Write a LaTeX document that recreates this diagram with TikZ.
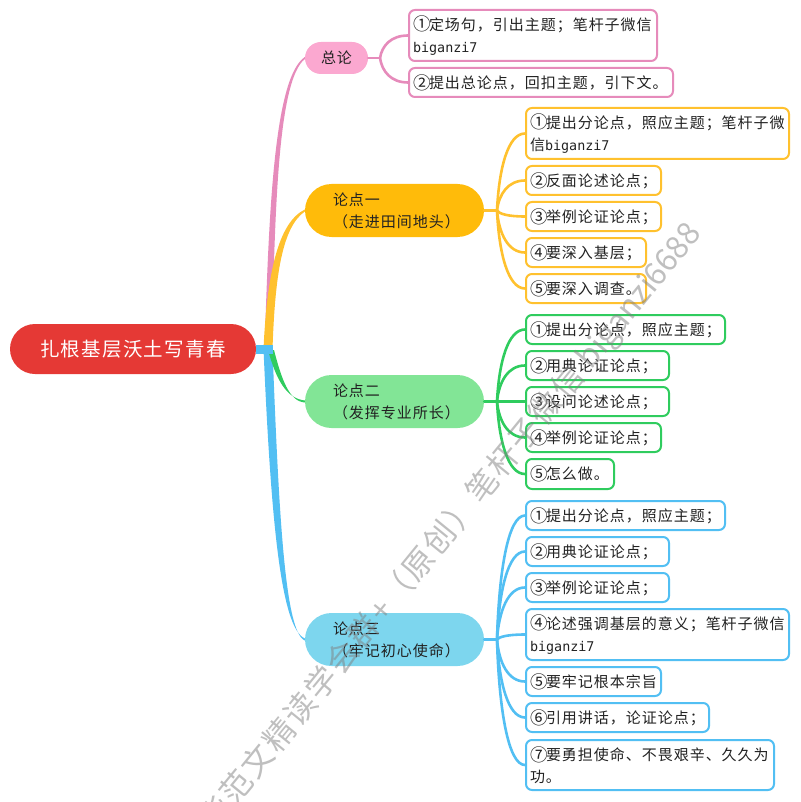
\documentclass[tikz,border=0pt]{standalone}
\usepackage{fontspec}
\usetikzlibrary{calc}
\newfontfamily\cjk[LetterSpace=6.5]{Noto Sans CJK SC}
\newfontfamily\wlat{Noto Sans CJK SC}
\newfontfamily\latm{DejaVu Sans Mono}
\newcommand{\bgz}{{\latm\fontsize{13.4}{22}\selectfont biganzi7}}
\newcommand{\cn}[1]{\raisebox{-0.8pt}{\fontsize{17.5}{22}\selectfont #1}\kern-1.5pt}
\definecolor{cred}{HTML}{E53935}
\definecolor{pinkf}{HTML}{FBA8D0}
\definecolor{pinkl}{HTML}{E68BBB}
\definecolor{orf}{HTML}{FFBB0A}
\definecolor{orl}{HTML}{FFC12E}
\definecolor{grf}{HTML}{82E596}
\definecolor{grl}{HTML}{2FCC5E}
\definecolor{blf}{HTML}{7DD6EE}
\definecolor{bll}{HTML}{52BFF3}
\definecolor{txt}{HTML}{222222}
\tikzset{
  leafbox/.style={draw=#1,fill=white,line width=2pt,rounded corners=6pt,inner ysep=0pt,
    font=\cjk\fontsize{15}{22}\selectfont,text=txt,align=left},
  branchbox/.style={fill=#1,draw=none,inner ysep=0pt,
    font=\cjk\fontsize{15}{22}\selectfont,text=txt,align=left},
  rootbox/.style={fill=cred,draw=none,rounded corners=25pt,text=white,
    font=\cjk\fontsize{19.5}{22}\selectfont},
  linkline/.style={draw=#1,line width=2.6pt,line cap=round},
  watermark/.style={text=gray,opacity=0.5,font=\cjk\fontsize{31.5}{32}\selectfont,rotate=50.8,inner sep=0pt},
}
% name, x1,y1,x2,y2, colour, text
\newcommand{\leafnode}[7]{%
  \pgfmathsetmacro{\bw}{#4-#2-2}\pgfmathsetmacro{\bh}{#5-#3-2}\pgfmathsetmacro{\tw}{#4-#2-10}%
  \pgfmathsetmacro{\cx}{(#2+#4)/2}\pgfmathsetmacro{\cy}{(#3+#5)/2}%
  \node[leafbox=#6,minimum width=\bw pt,minimum height=\bh pt,inner xsep=4pt,text width=\tw pt] (#1) at (\cx,\cy) {#7};}
% name, x1,y1,x2,y2, colour, padding, text
\newcommand{\branchnode}[8]{%
  \pgfmathsetmacro{\bw}{#4-#2}\pgfmathsetmacro{\bh}{#5-#3}\pgfmathsetmacro{\tw}{#4-#2-2*#7}%
  \pgfmathsetmacro{\cx}{(#2+#4)/2}\pgfmathsetmacro{\cy}{(#3+#5)/2}\pgfmathsetmacro{\rr}{(#5-#3)/2}%
  \node[branchbox=#6,rounded corners=\rr pt,minimum width=\bw pt,minimum height=\bh pt,inner xsep=#7 pt,text width=\tw pt] (#1) at (\cx,\cy) {#8};}
% colour, fork, leaf
\newcommand{\sublink}[3]{%
  \draw[linkline=#1] (#2) .. controls ($(#2)!0.55!(#2|-#3.west)+(2,0)$) and ($(#2|-#3.west)+(11,0)$) .. (#3.west);}
% colour, from, c1, c2, node, half width
\newcommand{\taper}[6]{%
  \fill[#1] ($(#2)+(-#6,0)$) .. controls ($(#3)+(-0.9*#6,0)$) and ($(#4)+(-0.5*#6,-0.5*#6)$) .. ($(#5.west)+(0,-1)$)
    -- ($(#5.west)+(0,1)$) .. controls ($(#4)+(0.5*#6,0.5*#6)$) and ($(#3)+(0.9*#6,0)$) .. ($(#2)+(#6,0)$) -- cycle;}
\begin{document}
\begin{tikzpicture}[x=1pt,y=-1pt]
\useasboundingbox (0,0) rectangle (800,802);
\node[rootbox,minimum width=246pt,minimum height=50pt] (root) at (133,349) {扎根基层沃土写青春};

\branchnode{b0}{305}{42}{368}{74}{pinkf}{16}{总论}
\branchnode{b1}{305}{184}{484}{237}{orf}{28}{论点一\\（走进田间地头）}
\branchnode{b2}{305}{375}{484}{428}{grf}{28}{论点二\\（发挥专业所长）}
\branchnode{b3}{305}{613}{484}{666}{blf}{28}{论点三\\（牢记初心使命）}

\leafnode{p1}{408}{9}{658}{62}{pinkl}{\cn{①}定场句，引出主题；笔杆子微信\\\bgz}
\leafnode{p2}{408}{67}{674}{98}{pinkl}{\cn{②}提出总论点，回扣主题，引下文。}

\leafnode{o1}{525}{107}{790}{160}{orl}{\cn{①}提出分论点，照应主题；笔杆子微\\信\bgz}
\leafnode{o2}{525}{165}{662}{196}{orl}{\cn{②}反面论述论点；}
\leafnode{o3}{525}{201}{662}{232}{orl}{\cn{③}举例论证论点；}
\leafnode{o4}{525}{237}{647}{268}{orl}{\cn{④}要深入基层；}
\leafnode{o5}{525}{273}{647}{304}{orl}{\cn{⑤}要深入调查。}

\leafnode{g1}{525}{314}{726}{345}{grl}{\cn{①}提出分论点，照应主题；}
\leafnode{g2}{525}{350}{670}{381}{grl}{\cn{②}用典论证论点；}
\leafnode{g3}{525}{386}{670}{417}{grl}{\cn{③}设问论述论点；}
\leafnode{g4}{525}{422}{662}{453}{grl}{\cn{④}举例论证论点；}
\leafnode{g5}{525}{458}{615}{490}{grl}{\cn{⑤}怎么做。}

\leafnode{c1}{525}{500}{726}{531}{bll}{\cn{①}提出分论点，照应主题；}
\leafnode{c2}{525}{536}{670}{567}{bll}{\cn{②}用典论证论点；}
\leafnode{c3}{525}{572}{670}{603}{bll}{\cn{③}举例论证论点；}
\leafnode{c4}{525}{608}{790}{661}{bll}{\cn{④}论述强调基层的意义；笔杆子微信\\\bgz}
\leafnode{c5}{525}{666}{662}{697}{bll}{\cn{⑤}要牢记根本宗旨}
\leafnode{c6}{525}{702}{710}{733}{bll}{\cn{⑥}引用讲话，论证论点；}
\leafnode{c7}{525}{739}{775}{791}{bll}{\cn{⑦}要勇担使命、不畏艰辛、久久为\\功。}

% trunk connectors
\coordinate (hub) at (268,349);
\coordinate (hubg) at (271,350);
\taper{pinkl}{hub}{272,220}{275,80}{b0}{3.5}
\taper{bll}{hub}{275,520}{283,630}{b3}{4.5}
\taper{orl}{hub}{271,275}{280,225}{b1}{4.5}
\taper{grl}{hubg}{279,380}{288,400}{b2}{3}
\draw[bll,line width=9pt] (root.east) -- ($(hub)+(4.5,0)$);

% forks
\coordinate (f0) at (380,58);
\coordinate (f1) at (497,210.5);
\coordinate (f2) at (497,401.5);
\coordinate (f3) at (497,639.5);
\draw[linkline=pinkl] (b0.east) -- (f0);
\draw[linkline=orl] (b1.east) -- (f1);
\draw[linkline=grl] (b2.east) -- (f2);
\draw[linkline=bll] (b3.east) -- (f3);
\foreach \l in {p1,p2}{\sublink{pinkl}{f0}{\l}}
\foreach \l in {o1,o2,o3,o4,o5}{\sublink{orl}{f1}{\l}}
\foreach \l in {g1,g2,g3,g4,g5}{\sublink{grl}{f2}{\l}}
\foreach \l in {c1,c2,c3,c4,c5,c6,c7}{\sublink{bll}{f3}{\l}}

\node[watermark,anchor=west] (wm) at (207,827) {华范文精读学会群+（原创）笔杆子微信 {\wlat biganzi6688}};
\end{tikzpicture}
\end{document}
